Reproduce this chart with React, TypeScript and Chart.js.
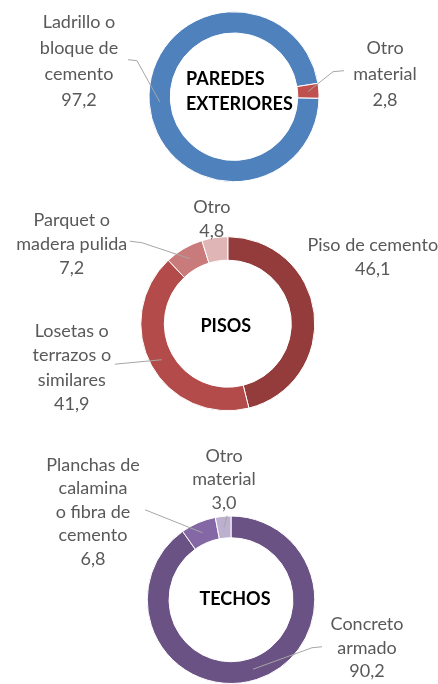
import React, { useEffect, useRef } from "react";
import { Chart, registerables } from "chart.js";

Chart.register(...registerables);

// ---------- DATA ----------
const paredesTitle = ["PAREDES", "EXTERIORES"];
const paredesLabels = [["Ladrillo o", "bloque de", "cemento"], ["Otro", "material"]];
const paredesValues = [97.2, 2.8];

const pisosTitle = ["PISOS"];
const pisosLabels = [["Piso de cemento"], ["Losetas o", "terrazos o", "similares"], ["Parquet o", "madera pulida"], ["Otro"]];
const pisosValues = [46.1, 41.9, 7.2, 4.8];

const techosTitle = ["TECHOS"];
const techosLabels = [["Concreto", "armado"], ["Planchas de", "calamina", "o fibra de", "cemento"], ["Otro", "material"]];
const techosValues = [90.2, 6.8, 3.0];

// ---------- STYLE / LAYOUT ----------
const FONT = "Lato";
const TEXT_COLOR = "#595959";
const LEADER_COLOR = "#A6A6A6";

type Pos = { dx: number; dy: number; leader: number[][] | null };

const charts = [
  {
    key: "paredes",
    top: 0,
    height: 195,
    padding: { top: 11.2, bottom: 12.8, left: 148.5, right: 118.5 },
    cutout: "75%",
    rotation: 91,
    colors: ["#4F81BD", "#C0504D"],
    labels: paredesLabels,
    values: paredesValues,
    title: paredesTitle,
    titleAlign: "left",
    titleDx: -48,
    titleDy: -5.5,
    titleLineH: 25,
    lineH: 26,
    fontSize: 18,
    pos: [
      { dx: -155, dy: -36, leader: [[-106, -37], [-97, -36]] },
      { dx: 151, dy: -23, leader: [[110, -26], [99, -25]] },
    ] as Pos[],
  },
  {
    key: "pisos",
    top: 195,
    height: 245,
    padding: { top: 41.2, bottom: 28.8, left: 140.3, right: 122.7 },
    cutout: "73%",
    rotation: 0,
    colors: ["#933C3B", "#B24B4A", "#C87B7A", "#DFB5B5"],
    labels: pisosLabels,
    values: pisosValues,
    title: pisosTitle,
    titleAlign: "center",
    titleDx: -2,
    titleDy: 2.5,
    titleLineH: 25,
    lineH: 24.3,
    fontSize: 18,
    pos: [
      { dx: 145, dy: -66.5, leader: null },
      { dx: -156, dy: 44, leader: [[-113, 40.5]] },
      { dx: -156, dy: -79.5, leader: [[-98, -82.5], [-86, -81]] },
      { dx: -16, dy: -104.5, leader: null },
    ] as Pos[],
  },
  {
    key: "techos",
    top: 440,
    height: 244,
    padding: { top: 75.5, bottom: 0, left: 146.5, right: 122.5 },
    cutout: "74%",
    rotation: 0,
    colors: ["#6A5284", "#8468A6", "#BDB0CF"],
    labels: techosLabels,
    values: techosValues,
    title: techosTitle,
    titleAlign: "center",
    titleDx: 4,
    titleDy: -1,
    titleLineH: 25,
    lineH: 23.5,
    fontSize: 18,
    pos: [
      { dx: 136, dy: 48, leader: [[91, 47], [81, 48]] },
      { dx: -138, dy: -88, leader: [[-86, -90]] },
      { dx: -7, dy: -120.5, leader: [[-4, -84]] },
    ] as Pos[],
  },
];

const fmt = (v: number) => v.toFixed(1).replace(".", ",");

const outLabels = {
  id: "outLabels",
  afterDraw(chart: any, _args: any, opts: any) {
    const ctx: CanvasRenderingContext2D = chart.ctx;
    const meta = chart.getDatasetMeta(0);
    if (!meta.data.length) return;
    const cx = meta.data[0].x;
    const cy = meta.data[0].y;
    const c = opts.cfg;
    ctx.save();
    // leader lines
    ctx.strokeStyle = LEADER_COLOR;
    ctx.lineWidth = 1;
    meta.data.forEach((arc: any, i: number) => {
      const p: Pos = c.pos[i];
      if (!p || !p.leader) return;
      const { startAngle, endAngle, innerRadius, outerRadius } = arc.getProps(
        ["startAngle", "endAngle", "innerRadius", "outerRadius"],
        true
      );
      const mid = (startAngle + endAngle) / 2;
      const r = (innerRadius + outerRadius) / 2;
      const ex = cx + Math.cos(mid) * r;
      const ey = cy + Math.sin(mid) * r;
      ctx.beginPath();
      p.leader.forEach((pt, k) => {
        if (k === 0) ctx.moveTo(cx + pt[0], cy + pt[1]);
        else ctx.lineTo(cx + pt[0], cy + pt[1]);
      });
      ctx.lineTo(ex, ey);
      ctx.stroke();
    });
    // labels
    ctx.font = `${c.fontSize}px ${FONT}`;
    ctx.fillStyle = TEXT_COLOR;
    ctx.textAlign = "center";
    ctx.textBaseline = "middle";
    c.labels.forEach((lab: string[], i: number) => {
      const p: Pos = c.pos[i];
      const lines = [...lab, fmt(c.values[i])];
      const n = lines.length;
      const y0 = cy + p.dy - ((n - 1) * c.lineH) / 2;
      lines.forEach((t, k) => ctx.fillText(t, cx + p.dx, y0 + k * c.lineH));
    });
    // title
    ctx.font = `bold ${c.fontSize}px ${FONT}`;
    ctx.fillStyle = "#000000";
    ctx.textAlign = c.titleAlign;
    const n = c.title.length;
    const ty0 = cy + c.titleDy - ((n - 1) * c.titleLineH) / 2;
    c.title.forEach((t: string, k: number) => ctx.fillText(t, cx + c.titleDx, ty0 + k * c.titleLineH));
    ctx.restore();
  },
};

function Donut({ cfg }: { cfg: any }) {
  const ref = useRef<HTMLCanvasElement | null>(null);
  useEffect(() => {
    if (!ref.current) return;
    const chart = new Chart(ref.current, {
      type: "doughnut",
      data: {
        labels: cfg.labels.map((l: string[]) => l.join(" ")),
        datasets: [
          {
            data: cfg.values,
            backgroundColor: cfg.colors,
            borderColor: "#FFFFFF",
            borderWidth: 1,
          },
        ],
      },
      options: {
        responsive: false,
        animation: false,
        cutout: cfg.cutout,
        rotation: cfg.rotation,
        layout: { padding: cfg.padding },
        plugins: {
          legend: { display: false },
          tooltip: { enabled: false },
          outLabels: { cfg },
        } as any,
      },
      plugins: [outLabels as any],
    });
    return () => chart.destroy();
  }, [cfg]);
  return (
    <canvas
      ref={ref}
      width={438}
      height={cfg.height}
      style={{ position: "absolute", left: 0, top: cfg.top, width: 438, height: cfg.height, display: "block" }}
    />
  );
}

export default function App() {
  return (
    <div style={{ position: "absolute", left: 0, top: 0, width: 438, height: 684, background: "#FFFFFF", overflow: "hidden" }}>
      {charts.map((c) => (
        <Donut key={c.key} cfg={c} />
      ))}
    </div>
  );
}
